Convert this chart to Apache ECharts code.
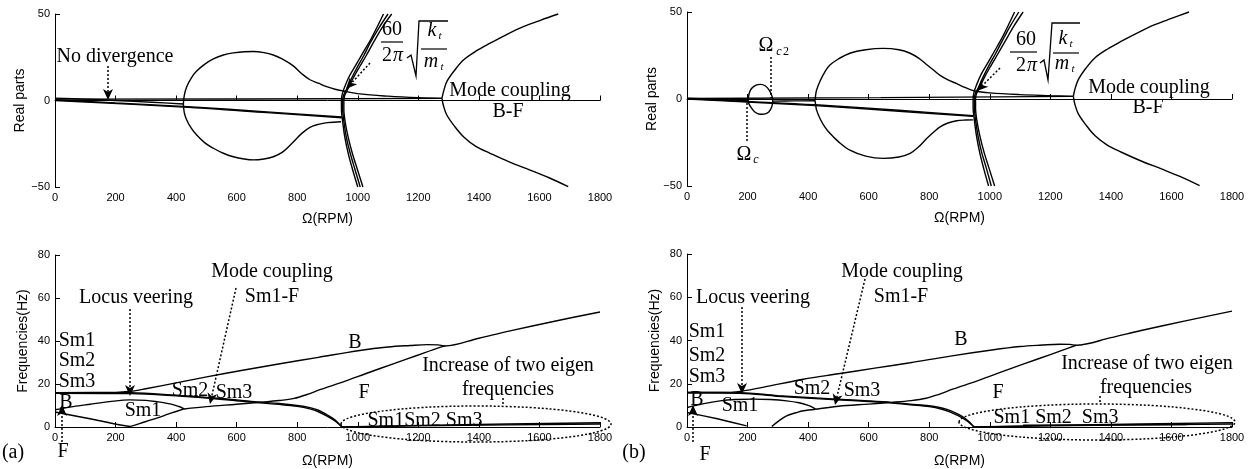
<!DOCTYPE html>
<html><head><meta charset="utf-8">
<script src="https://cdn.jsdelivr.net/npm/echarts/dist/echarts.min.js"></script>
<style>html,body{margin:0;padding:0;background:#fff}#c{width:1253px;height:469px}</style>
</head><body><div id="c"></div>
<script>
// ---------- axis ticks ----------
const xTickStep = 200, xMin = 0, xMax = 1800;
const reMin = -50, reMax = 50, reStep = 50;
const frMin = 0, frMax = 80, frStep = 20;

// ---------- (a) real parts ----------
const aReFlat = [[0,0.8],[640,0.9],[1278,1.2]];
const aReToBubble = [[0,1.4],[100,0.8],[200,0],[320,-1],[424,-2]];
const aReDesc1 = [[0,0],[424,-3.8],[700,-7],[947,-10]];
const aReDesc2 = [[0,0.4],[200,-1.4],[424,-3.4],[700,-6.6],[947,-9.5]];
const aReBubbleUp = [[424,-2],[427,3],[435,8],[450,13],[468,17],[495,21],[523,24],[556,26.3],[589,27.5],[625,28.2],[655,28.3],[690,27.7],[721,26.3],[750,24],[787,20],[815,15.5],[842,12],[870,10],[897,8],[925,6.5],[952,5.5],[1007,3.8],[1100,2.5],[1200,1.6],[1278,1.2]];
const aReBubbleLo = [[424,-2],[427,-7],[435,-11.3],[450,-16],[468,-20],[495,-24.5],[523,-27.6],[556,-30.5],[589,-32.5],[625,-33.8],[655,-34.3],[690,-33.8],[721,-32.5],[750,-30],[787,-24],[815,-19],[842,-15.5],[870,-13.8],[900,-12.8],[945,-12.3]];
const aReKt1 = [[1000,-50],[983,-40],[969,-31],[957,-21],[950,-12],[946,-5],[946,0],[949,4],[957,8],[972,14],[992,20],[1015,27],[1045,36],[1085,50]];
const aReKt2 = [[1008,-50],[991,-40],[975,-30.5],[962,-21],[954,-12],[950,-5],[950,0],[953,3],[963,6.5],[980,13],[999,19.5],[1020,26],[1040,33],[1070,42],[1100,50]];
const aReKt3 = [[1017,-50],[999,-40],[982,-30.5],[968,-21],[958,-12],[954,-5],[954,0],[957,3],[967,6.5],[985,13],[1006,19.5],[1028,26],[1050,33],[1080,42],[1112,50]];
const aReBFUp = [[1278,1.2],[1283,5],[1294,10.9],[1320,17.5],[1349,23.4],[1390,28.5],[1437,33.1],[1490,38],[1547,42.7],[1605,46.5],[1662,50]];
const aReBFLo = [[1278,1.2],[1283,-3],[1294,-8.4],[1320,-15],[1349,-20.9],[1390,-26.5],[1437,-30.5],[1500,-35.5],[1569,-40.2],[1630,-44.5],[1695,-49.8]];

// ---------- (b) real parts ----------
const bReFlat = [[0,0.3],[640,0.8],[1276,1.5]];
const bReToC = [[0,0.5],[100,-0.2],[202,-1]];
const bReSmallBubble = [[202,-1],[205,3],[213,6],[228,8],[243,8.4],[258,7.6],[272,5],[281,1.5],[283,-1],[280,-4.5],[270,-7.5],[255,-8.7],[240,-8.8],[224,-7.5],[212,-5],[204,-2.5],[202,-1]];
const bReC2ToBubble = [[283,-1.2],[350,-1.1],[423,-1]];
const bReDesc1 = [[0,0],[200,-1.8],[423,-3.8],[700,-7],[945,-10]];
const bReDesc2 = [[0,0.2],[200,-1.4],[423,-3.3],[700,-6.5],[945,-9.6]];
const bReBubbleUp = [[423,-1],[425,2.5],[428,5.2],[440,10.5],[455,15.5],[472,19.5],[500,23],[538,26.3],[590,28.3],[648,29.1],[700,28.3],[737,26.3],[765,23.5],[790,20],[815,16.5],[836,13.6],[862,11],[891,8.8],[920,6.5],[951,4.6],[1000,3.5],[1100,2.5],[1200,1.9],[1276,1.5]];
const bReBubbleLo = [[423,-1],[425,-3.5],[428,-6.4],[440,-11.5],[455,-16],[472,-19.7],[500,-24.5],[538,-29.4],[590,-32.8],[648,-34.1],[700,-33.3],[737,-31.2],[765,-27.5],[790,-23],[815,-19],[836,-16],[862,-13.8],[891,-12.5],[920,-12.1],[945,-12]];
const bReKt1 = [[996,-50],[980,-40],[967,-31],[956,-21],[949,-12],[945,-5],[945,0],[948,4],[956,8],[971,14],[991,20],[1014,27],[1043,36],[1082,50]];
const bReKt2 = [[1005,-50],[989,-40],[973,-30.5],[961,-21],[953,-12],[949,-5],[949,0],[952,3],[962,6.5],[979,13],[998,19.5],[1019,26],[1040,33],[1068,42],[1096,50]];
const bReKt3 = [[1016,-50],[998,-40],[981,-30.5],[967,-21],[957,-12],[953,-5],[953,0],[956,3],[966,6.5],[984,13],[1005,19.5],[1027,26],[1050,33],[1080,42],[1110,50]];
const bReBFUp = [[1276,1.5],[1281,5.5],[1292,11],[1318,17.8],[1347,23.6],[1388,28.6],[1435,33.2],[1488,38],[1545,42.7],[1600,46.3],[1658,50]];
const bReBFLo = [[1276,1.5],[1281,-3],[1292,-8.4],[1318,-15],[1347,-21],[1388,-26.5],[1435,-30.6],[1498,-35.5],[1567,-40.2],[1628,-44.5],[1693,-49.8]];

// ---------- (a) frequencies ----------
const aFrB = [[0,16],[200,16.1],[250,16.6],[300,17.8],[400,20.5],[501,23.3],[620,26.4],[743,29.4],[870,32.4],[1007,35.6],[1100,37.2],[1173,37.9],[1230,38.3],[1265,38.2],[1288,37.7],[1400,41.3],[1503,44.7],[1650,49.2],[1800,53.5]];
const aFrF = [[426,8.4],[500,9.5],[600,10.6],[677,11.5],[740,12.3],[790,13.3],[830,15],[880,17.6],[952,21],[1030,25],[1117,29.4],[1200,33.5],[1250,36],[1288,37.7]];
const aFrSm1 = [[0,16],[250,15.9],[400,14.8],[500,13.8],[600,12.6],[677,11.5],[740,10.9],[800,10],[842,9],[870,7.8],[897,5.8],[920,3.8],[936,1.8],[947,0]];
const aFrSm2 = [[0,15.7],[250,15.5],[400,14.5],[500,13.5],[600,12.2],[677,11.2],[740,10.5],[800,9.6],[842,8.4],[870,7.1],[897,5.2],[925,2.8],[942,0.8],[950,0]];
const aFrSm1Top = [[0,8],[60,9.5],[116,10.6],[180,11.8],[248,12.6],[300,12.4],[336,11.8],[370,11],[395,10.2],[414,9.3],[426,8.4]];
const aFrSm1Bot = [[0,7],[124,3.6],[248,0.3],[290,2.1],[336,4.1],[380,6.3],[426,8.4]];
const aFrLow1 = [[947,0],[1200,0.5],[1500,1],[1800,1.4]];
const aFrLow2 = [[950,0],[1300,1],[1800,2]];

// ---------- (b) frequencies ----------
const bFrB = [[0,16],[150,16.1],[175,16.4],[250,18.3],[384,22.1],[500,24.6],[620,27.2],[737,29.7],[870,32.8],[1007,35.6],[1100,37.2],[1173,37.9],[1230,38.3],[1265,38.2],[1285,37.8],[1400,41.3],[1500,44.6],[1650,49.2],[1800,53.6]];
const bFrF = [[425,8.2],[500,9.6],[600,10.6],[677,11.4],[740,12.2],[790,13.3],[830,15],[880,17.6],[952,21],[1030,25],[1117,29.4],[1200,33.5],[1250,36],[1285,37.8]];
const bFrSm1 = [[0,16],[175,15.9],[300,14.5],[494,12.9],[600,12.1],[677,11.4],[737,10.6],[800,9.8],[842,8.8],[870,7.6],[897,5.8],[920,3.8],[936,1.8],[947,0]];
const bFrSm2 = [[0,15.7],[175,15.6],[300,14.2],[494,12.6],[600,11.8],[677,11.1],[737,10.3],[800,9.4],[842,8.2],[870,6.9],[897,5.1],[925,2.8],[942,0.8],[950,0]];
const bFrSm1Top = [[0,9],[60,10.9],[109,12.1],[160,12.7],[219,12.9],[275,12.7],[329,12.1],[370,11.2],[400,10],[415,9.1],[425,8.2]];
const bFrSm1BotL = [[0,6.7],[100,3.8],[197,0.5]];
const bFrSm1BotR = [[280,0.2],[300,2.5],[329,5.2],[360,6.6],[384,7.5],[425,8.2]];
const bFrLow1 = [[947,0],[1200,0.5],[1500,1],[1800,1.4]];
const bFrLow2 = [[950,0],[1300,1],[1800,2]];
const bFrLow3 = [[1110,0.8],[1650,1.1]];

// ---------- chart ----------
const SANS = '"Liberation Sans", Arial, sans-serif';
const SERIF = '"Liberation Serif", "Times New Roman", serif';
const chart = echarts.init(document.getElementById('c'));

const grids = [
  {left:55, top:14, width:545, height:173},
  {left:687, top:12, width:545, height:174},
  {left:55, top:255, width:545, height:174},
  {left:687, top:254, width:545, height:174}
];
function xAx(i){
  return {type:'value', gridIndex:i, min:xMin, max:xMax, interval:xTickStep,
    name:'Ω(RPM)', nameLocation:'middle', nameGap:i<2?25:27,
    nameTextStyle:{fontFamily:SANS, fontSize:14, color:'#000'},
    axisLine:{lineStyle:{color:'#000', width:1}},
    axisTick:{inside:true, length:5, lineStyle:{color:'#000'}},
    axisLabel:{fontFamily:SANS, fontSize:11, color:'#000', margin:5, formatter:v=>String(v)},
    splitLine:{show:false}};
}
function yAx(i){
  const top = i<2;
  return {type:'value', gridIndex:i, min:top?reMin:frMin, max:top?reMax:frMax, interval:top?reStep:frStep,
    name: top?'Real parts':'Frequencies(Hz)', nameLocation:'middle', nameGap:top?28:25,
    nameTextStyle:{fontFamily:SANS, fontSize:14, color:'#000'},
    axisLine:{lineStyle:{color:'#000', width:1}},
    axisTick:{inside:true, length:5, lineStyle:{color:'#000'}},
    axisLabel:{fontFamily:SANS, fontSize:11, color:'#000', margin:5,
      formatter:v=>v<0?'\u2212'+(-v):String(v)},
    splitLine:{show:false}};
}
function ln(data, g, smooth){
  return {type:'line', xAxisIndex:g, yAxisIndex:g, data:data, symbol:'none', showSymbol:false,
    smooth: smooth===undefined?0.35:smooth, silent:true, animation:false, clip:false,
    lineStyle:{color:'#000', width:1.4}};
}
const series = [
  ln(aReFlat,0,0), ln(aReToBubble,0), ln(aReDesc1,0), ln(aReDesc2,0),
  ln(aReBubbleUp,0), ln(aReBubbleLo,0), ln(aReKt1,0), ln(aReKt2,0), ln(aReKt3,0),
  ln(aReBFUp,0), ln(aReBFLo,0),
  ln(bReFlat,1,0), ln(bReToC,1), ln(bReSmallBubble,1), ln(bReC2ToBubble,1), ln(bReDesc1,1), ln(bReDesc2,1),
  ln(bReBubbleUp,1), ln(bReBubbleLo,1), ln(bReKt1,1), ln(bReKt2,1), ln(bReKt3,1),
  ln(bReBFUp,1), ln(bReBFLo,1),
  ln(aFrB,2), ln(aFrF,2), ln(aFrSm1,2), ln(aFrSm2,2), ln(aFrSm1Top,2), ln(aFrSm1Bot,2,0.15),
  ln(aFrLow1,2), ln(aFrLow2,2),
  ln(bFrB,3), ln(bFrF,3), ln(bFrSm1,3), ln(bFrSm2,3), ln(bFrSm1Top,3), ln(bFrSm1BotL,3,0.15), ln(bFrSm1BotR,3),
  ln(bFrLow1,3), ln(bFrLow2,3), ln(bFrLow3,3,0)
];

// ---------- annotation graphics (pixel positions) ----------
const G = [];
function T(text, x, y, size, opts){
  opts = opts||{};
  G.push({type:'text', x:x, y:y, z:100, silent:true, style:{text:text,
    font:(opts.italic?'italic ':'')+(size||20)+'px '+(opts.sans?SANS:SERIF), fill:'#000',
    align:opts.align||'center', verticalAlign:'middle', textAlign:opts.align||'center', textVerticalAlign:'middle'}});
}
function L(x1,y1,x2,y2,dash,w){
  G.push({type:'line', z:100, silent:true, shape:{x1:x1,y1:y1,x2:x2,y2:y2},
    style:{stroke:'#000', lineWidth:w||1.3, lineDash:dash?[2,2]:null}});
}
function P(points,w){
  G.push({type:'polyline', z:100, silent:true, shape:{points:points}, style:{stroke:'#000', lineWidth:w||1.3, fill:null}});
}
function arrow(x1,y1,tx,ty){
  const dx=tx-x1, dy=ty-y1, len=Math.hypot(dx,dy), ux=dx/len, uy=dy/len, nx=-uy, ny=ux;
  const bx=tx-11*ux, by=ty-11*uy, kx=tx-8*ux, ky=ty-8*uy;
  L(x1,y1,kx,ky,true,1.5);
  G.push({type:'polygon', z:101, silent:true, shape:{points:[[tx,ty],[bx+5*nx,by+5*ny],[kx,ky],[bx-5*nx,by-5*ny]]}, style:{fill:'#000'}});
}
function ell(cx,cy,rx,ry){
  G.push({type:'ellipse', z:100, silent:true, shape:{cx:cx,cy:cy,rx:rx,ry:ry}, style:{stroke:'#000', lineWidth:1.5, lineDash:[2,2], fill:null}});
}
function formula(x60,y60,barY,y2pi,radPts,kx,ky,innerBarY,my,barX1,barX2,inX1,inX2){
  T('60',x60,y60,20);
  L(barX1,barY,barX2,barY,false,1.2);
  T('2',x60-5,y2pi,20); T('π',x60+6,y2pi,20,{italic:true});
  P(radPts,1.3);
  T('k',kx,ky,20,{italic:true}); T('t',kx+8,ky+5,11,{italic:true});
  L(inX1,innerBarY,inX2,innerBarY,false,1.2);
  T('m',kx-1,my,20,{italic:true}); T('t',kx+10,my+5,11,{italic:true});
}

// (a) real parts
T('No divergence',115,57,20);
arrow(108,66,108,100);
formula(392,30,42,56,[[407,58],[411,55],[416,76],[419,21],[448,21]],432,31,49,62,381,403,421,447);
arrow(370,63,346,89);
T('Mode coupling',510,91,20);
T('B-F',508,112,20);

// (b) real parts
T('Ω',766,46,20); T('c',779,52,12,{italic:true}); T('2',786,52,12);
L(771,57,771,98,true,1.5);
T('Ω',744,155,20); T('c',756,160,12,{italic:true});
L(747,103,747,143,true,1.5);
formula(1026,40,52,66,[[1040,63],[1044,60],[1048,80],[1052,23],[1080,23]],1063,39,53,64,1010,1037,1053,1079);
arrow(1000,68,977,91);
T('Mode coupling',1149,88,20);
T('B-F',1148,108,20);

// (a) frequencies
T('Locus veering',136,298,20);
arrow(130,309,130,396);
T('Mode coupling',272,272,20);
T('Sm1-F',272,297,20);
arrow(236,288,210,404);
T('Sm1',77,341,20); T('Sm2',77,361,20); T('Sm3',77,382,20);
T('B',66,403,20);
T('Sm1',143,411,20);
T('Sm2',190,391,20); T('Sm3',234,393,20);
arrow(62,442,62,405);
T('F',63,452,20);
T('(a)',13,453,20);
T('B',355,343,20); T('F',364,393,20);
T('Increase of two eigen',508,366,20);
T('frequencies',508,390,20);
L(503,398,503,406,true,1.5);
T('Sm1Sm2 Sm3',425,421,20);
ell(476,424,135,18);

// (b) frequencies
T('Locus veering',753,298,20);
arrow(742,307,742,394);
T('Mode coupling',902,272,20);
T('Sm1-F',901,297,20);
arrow(865,279,835,405);
T('Sm1',707,332,20); T('Sm2',707,356,20); T('Sm3',707,377,20);
T('B',697,400,20);
T('Sm1',740,406,20);
T('Sm2',812,389,20); T('Sm3',862,391,20);
arrow(693,442,693,405);
T('F',705,455,20);
T('(b)',634,453,20);
T('B',961,340,20); T('F',998,393,20);
T('Increase of two eigen',1147,364,20);
T('frequencies',1146,388,20);
L(1100,396,1100,404,true,1.5);
T('Sm1 Sm2  Sm3',1056,418,20);
ell(1097,422,138,18);

chart.setOption({
  animation:false,
  backgroundColor:'#fff',
  grid:grids,
  xAxis:[0,1,2,3].map(xAx),
  yAxis:[0,1,2,3].map(yAx),
  series:series,
  graphic:{elements:G}
});
</script></body></html>
